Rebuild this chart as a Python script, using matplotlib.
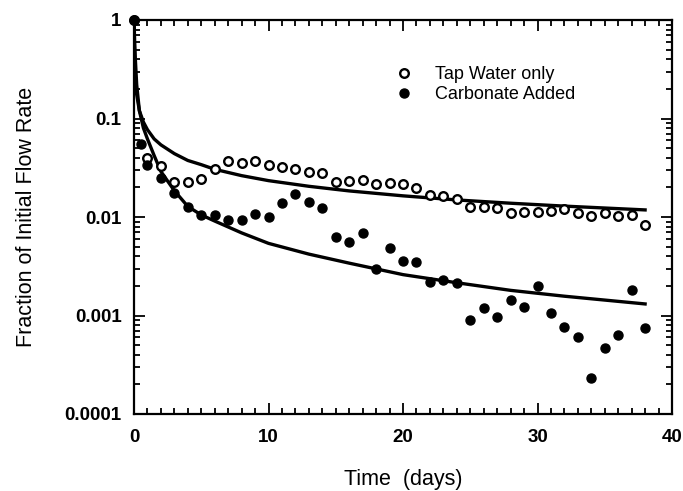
import matplotlib
matplotlib.use("Agg")
import matplotlib.pyplot as plt
from matplotlib.ticker import FixedLocator, MultipleLocator, LogLocator, NullFormatter

plt.rcParams['font.family'] = ['Liberation Sans', 'DejaVu Sans']

# Tap water only (open circles)
tap_days = [0, 1, 2, 3, 4, 5, 6, 7, 8, 9, 10, 11, 12, 13, 14, 15, 16, 17, 18, 19,
            20, 21, 22, 23, 24, 25, 26, 27, 28, 29, 30, 31, 32, 33, 34, 35, 36, 37, 38]
tap_vals = [1.0, 0.040, 0.033, 0.0226, 0.0226, 0.0243, 0.0305, 0.037, 0.0356, 0.037,
            0.0337, 0.032, 0.031, 0.0286, 0.028, 0.0226, 0.023, 0.024, 0.0218, 0.0223,
            0.0216, 0.0196, 0.0167, 0.0163, 0.0151, 0.0125, 0.0125, 0.0123, 0.0109, 0.0113,
            0.0113, 0.0116, 0.0121, 0.0111, 0.0102, 0.0109, 0.0103, 0.0106, 0.0082]

# Carbonate added (filled circles)
carb_days = [0, 0.5, 1, 2, 3, 4, 5, 6, 7, 8, 9, 10, 11, 12, 13, 14, 15, 16, 17, 18, 19,
             20, 21, 22, 23, 24, 25, 26, 27, 28, 29, 30, 31, 32, 33, 34, 35, 36, 37, 38]
carb_vals = [1.0, 0.055, 0.034, 0.0247, 0.0174, 0.0126, 0.0105, 0.0106, 0.0093, 0.0093,
             0.0107, 0.0101, 0.014, 0.0171, 0.0142, 0.0123, 0.0063, 0.0056, 0.0068, 0.0030,
             0.0049, 0.0036, 0.0035, 0.0022, 0.0023, 0.00215, 0.00091, 0.00118, 0.00096, 0.00144,
             0.00123, 0.0020, 0.00105, 0.00076, 0.0006, 0.00023, 0.00047, 0.00064, 0.0018, 0.00075]

# Fitted curves
fit_days = [0, 0.05, 0.1, 0.2, 0.4, 0.7, 1, 1.5, 2, 3, 4, 5, 6, 8, 10, 13, 16, 20, 24, 28, 32, 38]
fit_tap = [1.0, 0.36, 0.25, 0.175, 0.12, 0.092, 0.077, 0.062, 0.054, 0.044, 0.0375, 0.034,
           0.0305, 0.0263, 0.0234, 0.0205, 0.0184, 0.0164, 0.0149, 0.0138, 0.0129, 0.0118]
fit_carb = [1.0, 0.6, 0.4, 0.22, 0.12, 0.08, 0.062, 0.042, 0.029, 0.0185, 0.0128, 0.0105,
            0.0091, 0.0069, 0.0054, 0.0042, 0.0034, 0.0026, 0.00215, 0.0018, 0.00157, 0.00131]

x_ticks = [0, 10, 20, 30, 40]
y_ticks = [1e-4, 1e-3, 1e-2, 1e-1, 1]
y_ticklabels = ['0.0001', '0.001', '0.01', '0.1', '1']

fig = plt.figure(figsize=(6.83, 4.91), dpi=100)
ax = fig.add_axes([134/683, 1-414/491, 538/683, 394/491])

ax.plot(fit_days, fit_tap, color='black', lw=2.4, zorder=2)
ax.plot(fit_days, fit_carb, color='black', lw=2.4, zorder=2)
ax.plot(tap_days, tap_vals, 'o', ms=6.2, mfc='white', mec='black', mew=1.7,
        label='Tap Water only', zorder=3, clip_on=False)
ax.plot(carb_days, carb_vals, 'o', ms=6.5, mfc='black', mec='black', mew=1.0,
        label='Carbonate Added', zorder=3, clip_on=False)

ax.set_yscale('log')
ax.set_xlim(0, 40)
ax.set_ylim(1e-4, 1)
ax.xaxis.set_major_locator(FixedLocator(x_ticks))
ax.xaxis.set_minor_locator(MultipleLocator(1))
ax.set_yticks(y_ticks)
ax.set_yticklabels(y_ticklabels)
ax.yaxis.set_minor_locator(LogLocator(base=10, subs=range(2, 10)))
ax.yaxis.set_minor_formatter(NullFormatter())

for lab in ax.get_xticklabels() + ax.get_yticklabels():
    lab.set_fontweight('bold')
    lab.set_fontsize(13.5)

ax.tick_params(which='both', direction='in', top=True, right=True, width=1.3, color='black')
ax.tick_params(which='major', length=8)
ax.tick_params(which='minor', length=4)
ax.tick_params(axis='x', which='major', pad=11)
ax.tick_params(axis='y', which='major', pad=9)
for s in ax.spines.values():
    s.set_linewidth(1.6)

ax.set_xlabel('Time  (days)', fontsize=15.5, labelpad=16)
ax.set_ylabel('Fraction of Initial Flow Rate', fontsize=15.5, labelpad=20)

leg = ax.legend(loc='upper left', bbox_to_anchor=((395-134)/538, 1-(66-20)/394),
                frameon=False, numpoints=1, handlelength=1.0, handletextpad=1.2,
                borderpad=0, borderaxespad=0, labelspacing=0.18, fontsize=13)

fig.savefig('out.png', dpi=100, facecolor='white')
